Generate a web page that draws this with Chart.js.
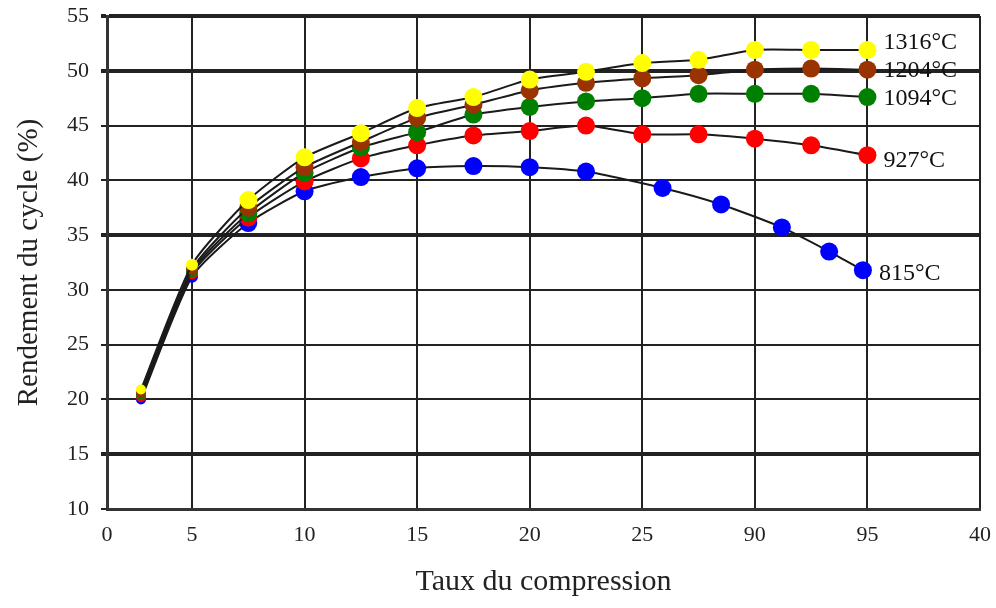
<!DOCTYPE html>
<html>
<head>
<meta charset="utf-8">
<script src="https://cdn.jsdelivr.net/npm/chart.js@4"></script>
<style>
  html, body { margin: 0; padding: 0; background: #fff; }
  #wrap { width: 996px; height: 608px; }
</style>
</head>
<body>
<div id="wrap"><canvas id="cycleChart" width="996" height="608"></canvas></div>
<script>
// compression ratio (x) and cycle efficiency in % (y)
const temps = ['1316°C', '1204°C', '1094°C', '927°C', '815°C'];
const colors = ['#ffff00', '#993300', '#008000', '#ff0000', '#0000ff'];

const ratios = [2, 5, 7.5, 10, 12.5, 15, 17.5, 20, 22.5, 25, 27.5, 30, 32.5, 35];
const ratios815 = [2, 5, 7.5, 10, 12.5, 15, 17.5, 20, 22.5, 25.9, 28.5, 31.2, 33.3, 34.8];

const eff1316 = [20.9, 32.3, 38.2, 42.1, 44.3, 46.6, 47.6, 49.2, 49.9, 50.7, 51.0, 51.9, 51.9, 51.9];
const eff1204 = [20.6, 31.9, 37.5, 41.2, 43.5, 45.7, 46.9, 48.2, 48.9, 49.3, 49.6, 50.1, 50.2, 50.1];
const eff1094 = [20.4, 31.7, 37.0, 40.7, 43.0, 44.4, 46.0, 46.7, 47.2, 47.5, 47.9, 47.9, 47.9, 47.6];
const eff927  = [20.2, 31.5, 36.6, 39.9, 42.0, 43.2, 44.1, 44.5, 45.0, 44.2, 44.2, 43.8, 43.2, 42.3];
const eff815  = [20.0, 31.2, 36.1, 39.0, 40.3, 41.1, 41.3, 41.2, 40.8, 39.3, 37.8, 35.7, 33.5, 31.8];

const xTickLabels = ['0', '5', '10', '15', '20', '25', '90', '95', '40'];

// the original x axis squeezes the 0-5 interval, the rest is linear
class KneeLinear extends Chart.LinearScale {
    static id = 'kneeLinear';
    static defaults = {};
    getPixelForValue(value) {
        if (value === null || isNaN(value)) return NaN;
        const kv = 5, kf = 85 / 873;
        let d;
        if (value <= kv) d = (value - this.min) / (kv - this.min) * kf;
        else d = kf + (value - kv) / (this.max - kv) * (1 - kf);
        return this.getPixelForDecimal(d);
    }
    getValueForPixel(pixel) {
        const kv = 5, kf = 85 / 873;
        const d = this.getDecimalForPixel(pixel);
        if (d <= kf) return this.min + d / kf * (kv - this.min);
        return kv + (d - kf) / (1 - kf) * (this.max - kv);
    }
}
Chart.register(KneeLinear);

const pairs = (xs, ys) => xs.map((x, i) => ({x: x, y: ys[i]}));
const series = [
    pairs(ratios, eff1316),
    pairs(ratios, eff1204),
    pairs(ratios, eff1094),
    pairs(ratios, eff927),
    pairs(ratios815, eff815)
];

const endLabels = {
    id: 'endLabels',
    afterDatasetsDraw(chart, args, opts) {
        const ctx = chart.ctx;
        ctx.save();
        ctx.font = '24px "Liberation Serif"';
        ctx.fillStyle = '#111';
        ctx.textBaseline = 'middle';
        chart.data.datasets.forEach((ds, i) => {
            const pts = chart.getDatasetMeta(i).data;
            const last = pts[pts.length - 1];
            ctx.fillText(ds.label, last.x + 16, last.y + opts.shift[i]);
        });
        ctx.restore();
    }
};

const ctx = document.getElementById('cycleChart').getContext('2d');
const myChart = new Chart(ctx, {
    type: 'line',
    data: {
        datasets: series.map((pts, i) => ({
            label: temps[i],
            data: pts,
            borderColor: '#1a1a1a',
            borderWidth: 2,
            tension: 0.2,
            pointBackgroundColor: colors[i],
            pointBorderColor: colors[i],
            pointBorderWidth: 0,
            pointRadius: (c) => c.raw && c.raw.x < 4 ? 5 : (c.raw && c.raw.x < 6 ? 6 : 9)
        }))
    },
    options: {
        responsive: false,
        devicePixelRatio: 1,
        animation: false,
        layout: { padding: { left: 0, right: 16, top: 16, bottom: 0 } },
        plugins: {
            legend: { display: false },
            tooltip: { enabled: false },
            endLabels: { shift: [-7, 1, 2, 6, 4] }
        },
        scales: {
            x: {
                type: 'kneeLinear',
                min: 0, max: 40,
                afterFit: (s) => { s.height = 99; s.paddingLeft = 0; s.paddingRight = 0; },
                ticks: {
                    stepSize: 5,
                    padding: 13,
                    color: '#222',
                    font: { family: 'Liberation Serif', size: 22 },
                    maxRotation: 0,
                    callback: (v, i) => xTickLabels[i]
                },
                grid: { color: '#222', lineWidth: 2, drawTicks: false },
                border: { color: '#333', width: 3 },
                title: {
                    display: true,
                    text: 'Taux du compression',
                    color: '#222',
                    font: { family: 'Liberation Serif', size: 30 },
                    padding: { bottom: 8 }
                }
            },
            y: {
                min: 10, max: 55,
                afterFit: (s) => { s.width = 107; s.paddingTop = 0; s.paddingBottom = 0; },
                ticks: {
                    stepSize: 5,
                    padding: 12,
                    color: '#222',
                    font: { family: 'Liberation Serif', size: 22 }
                },
                grid: {
                    color: '#222',
                    lineWidth: (c) => [15, 35, 50, 55].includes(c.tick.value) ? 4 : 2,
                    tickLength: 6
                },
                border: { color: '#333', width: 3 },
                title: {
                    display: true,
                    text: 'Rendement du cycle (%)',
                    color: '#222',
                    font: { family: 'Liberation Serif', size: 29 },
                    padding: { top: 12 }
                }
            }
        }
    },
    plugins: [endLabels]
});
</script>
</body>
</html>
